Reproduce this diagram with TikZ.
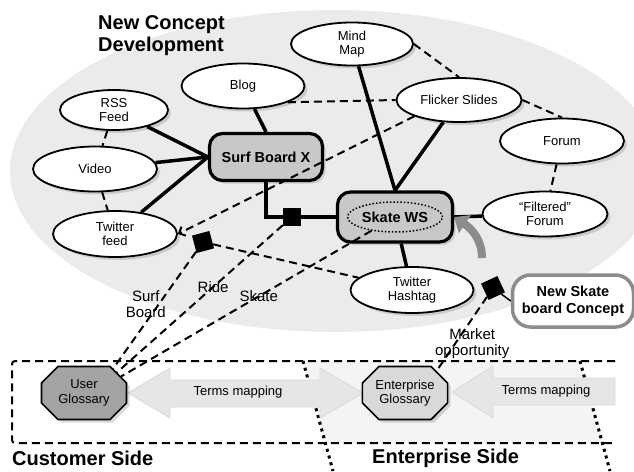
\documentclass[tikz,border=0pt]{standalone}
\usepackage{fontspec}
\setmainfont{Liberation Sans}
\usetikzlibrary{arrows.meta, shapes.geometric, shapes.misc, shadows}
\definecolor{bgray}{HTML}{EBEBEB}
\definecolor{entfill}{HTML}{F4F4F4}
\definecolor{hubgray}{HTML}{C8C8C8}
\definecolor{usrgray}{HTML}{A3A3A3}
\definecolor{entgray}{HTML}{D9D9D9}
\definecolor{mapgray}{HTML}{E6E6E6}
\definecolor{mapedge}{HTML}{D8D8D8}
\definecolor{pushgray}{HTML}{8C8C8C}

\begin{document}
\begin{tikzpicture}[x=1pt, y=-1pt,
  shade/.style={drop shadow={shadow xshift=3pt, shadow yshift=-3pt, opacity=0.3}},
  concept/.style={ellipse, draw=black, line width=1.8pt, fill=white, shade,
    minimum width=124pt, minimum height=45pt, inner sep=0pt, align=center,
    font=\fontsize{13}{14.5}\selectfont},
  hub/.style={rectangle, rounded corners=13pt, draw=black, line width=3.2pt,
    fill=hubgray, shade, minimum width=113pt, minimum height=47pt,
    font=\fontsize{14.5}{16}\selectfont\bfseries},
  gloss/.style={chamfered rectangle, chamfered rectangle xsep=13pt, draw=black,
    line width=1.6pt, shade, minimum width=85pt, minimum height=53pt,
    inner sep=0pt, align=center, font=\fontsize{13}{14.5}\selectfont},
  tie/.style={rectangle, fill=black, minimum size=18pt, inner sep=0pt},
  link/.style={line width=3.5pt},
  hint/.style={line width=2pt, dash pattern=on 8pt off 5pt},
  elab/.style={font=\fontsize{15}{16.5}\selectfont, align=center, inner sep=0pt},
  side/.style={font=\fontsize{20}{22}\selectfont\bfseries, inner sep=0pt},
  mapping/.style={fill=mapgray, draw=mapedge, line width=0.8pt},
  maptext/.style={font=\fontsize{13}{14.5}\selectfont},
  divide/.style={line width=3pt, dash pattern=on 3pt off 4pt},
  push/.style={pushgray, line width=8pt, -{Triangle[length=13pt, width=21pt]}},
]
\useasboundingbox (0,0) rectangle (634,471);

% Background areas
\fill[bgray] (335,171) ellipse [x radius=325pt, y radius=161pt];
\fill[entfill] (303,361) -- (580,361) -- (603,443) -- (326,443) -- cycle;
\draw[hint, rounded corners=3pt] (615,361) -- (12,361) -- (12,443) -- (615,443);
\draw[divide] (303,361) -- (333,471);
\draw[divide] (580,361) -- (610,471);

\node[side, anchor=west, align=left] (ncd) at (98,36) {New Concept\\Development};
\node[side, anchor=west] (cside) at (12,458) {Customer Side};
\node[side, anchor=west] (eside) at (372,458) {Enterprise Side};

% Terms mapping arrows
\path[mapping] (128,393) -- (170,368) -- (170,380) -- (320,380) -- (320,368)
  -- (363,393) -- (320,418) -- (320,407) -- (170,407) -- (170,418) -- cycle;
\path[mapping] (452,392) -- (493,366) -- (493,378) -- (615,378) -- (615,405)
  -- (493,405) -- (493,418) -- cycle;
\node[maptext] (map1) at (238,392) {Terms mapping};
\node[maptext] (map2) at (546,391) {Terms mapping};

\node[gloss, fill=usrgray] (uglos) at (84,393) {User\\Glossary};
\node[gloss, fill=entgray] (eglos) at (405,393) {Enterprise\\Glossary};

% Concepts
\node[concept, minimum width=122pt, minimum height=43pt] (mind) at (352,44) {Mind\\Map};
\node[concept, minimum width=123pt] (blog) at (243,86) {Blog};
\node[concept, minimum width=108pt, minimum height=40pt] (rss) at (114,110) {RSS\\Feed};
\node[concept, minimum width=125pt, minimum height=44pt] (flick) at (459,100) {Flicker Slides};
\node[concept] (forum) at (562,141) {Forum};
\node[concept] (video) at (95,169) {Video};
\node[concept, minimum height=46pt] (tfeed) at (115,234) {Twitter\\feed};
\node[concept, minimum width=125pt] (filt) at (545,214) {“Filtered”\\Forum};
\node[concept, minimum width=123pt, minimum height=46pt] (hash) at (412,290) {Twitter\\Hashtag};

\node[hub] (surf) at (266,157) {Surf Board X};
\node[hub, minimum width=115pt, minimum height=50pt] (skate) at (395,217) {};
\node[ellipse, draw=black, line width=1.5pt, dotted, minimum width=95pt,
  minimum height=30pt, inner sep=0pt, font=\fontsize{14.5}{16}\selectfont\bfseries]
  (skin) at (395,217) {Skate WS};
\node[rectangle, rounded corners=18pt, draw=pushgray, line width=3.5pt, fill=white,
  minimum width=121pt, minimum height=52pt, align=center,
  font=\fontsize{14.5}{16.5}\selectfont\bfseries] (nsk) at (573,301) {New Skate\\board Concept};

% Solid links
\draw[link] (rss) -- (surf.west);
\draw[link] (video) -- (surf.west);
\draw[link] (tfeed) -- (surf.west);
\draw[link] (blog) -- (surf.north);
\draw[link] (mind) -- (skate.north);
\draw[link] (flick) -- (skate.north);
\draw[link] (skate.east) -- (filt);
\draw[link] (skate) -- (hash);
\draw[link] (surf.south) |- (skate.west);

% Dashed hints
\draw[hint] (rss) -- (video);
\draw[hint] (video) -- (tfeed);
\draw[hint] (blog.-20) -- (flick.west);
\draw[hint] (mind.east) -- (flick.north);
\draw[hint] (flick.east) -- (forum.north);
\draw[hint] (forum) -- (filt);
\draw[hint, -{Straight Barb[length=5pt, width=10pt]}] (flick.200) -- (tfeed.east);

\node[tie] (sq1) at (292,217) {};
\node[tie, rotate=15] (sq2) at (203,242) {};
\node[tie, rotate=25] (sq3) at (493,288) {};

\draw[hint] (sq2) -- (hash);
\draw[hint] (sq2) -- node[elab, pos=0.45, xshift=-13pt] {Surf\\Board} (uglos.40);
\draw[hint] (sq1) -- node[elab, pos=0.42] {Ride} (uglos.32);
\draw[hint] (skin) -- node[elab, pos=0.45] {Skate} (uglos.24);
\draw[hint] (sq3) -- node[elab, pos=0.63, xshift=17pt] {Market\\opportunity} (eglos.35);
\draw[line width=1.5pt] (sq3) -- (nsk.west);

\coordinate (pushfrom) at (482,258);
\draw[push] (pushfrom) .. controls (482,240) and (472,229) .. (skate.east);
\end{tikzpicture}
\end{document}
